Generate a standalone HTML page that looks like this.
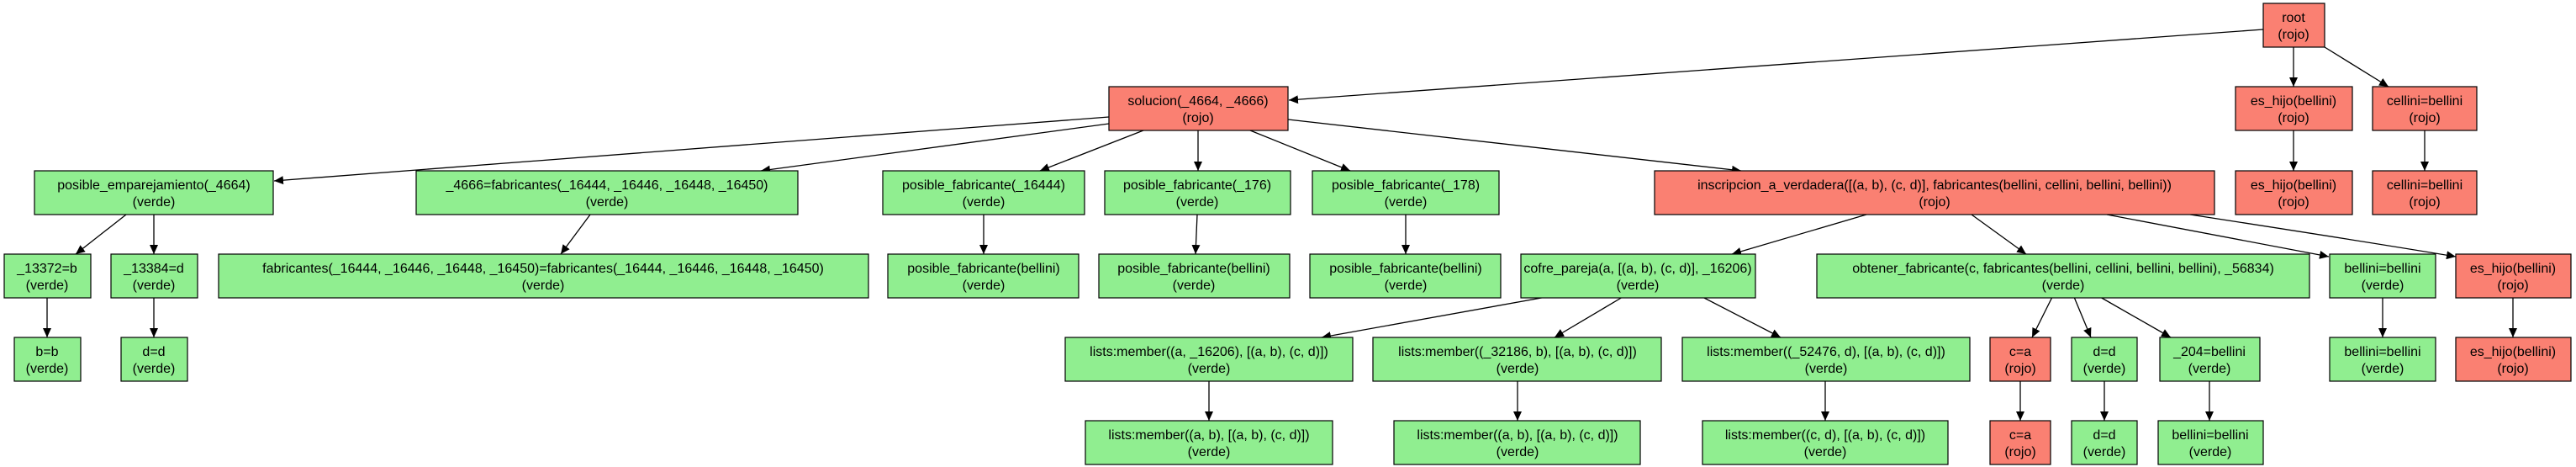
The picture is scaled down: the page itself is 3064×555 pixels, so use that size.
<!DOCTYPE html>
<html><head><meta charset="utf-8"><style>
html,body{margin:0;padding:0;background:#fff;}
svg{display:block;}
text{font-family:"Liberation Sans",Arial,sans-serif;font-size:16px;fill:#000;text-anchor:middle;}
.g{fill:#90EE90;stroke:#000;stroke-width:1.2;}
.r{fill:#FA8072;stroke:#000;stroke-width:1.2;}
line{stroke:#000;stroke-width:1.3;}
</style></head><body>
<svg width="3064" height="555" viewBox="0 0 3064 555" xmlns="http://www.w3.org/2000/svg">
<defs><marker id="a" markerUnits="userSpaceOnUse" markerWidth="12" markerHeight="10" refX="11" refY="5" orient="auto"><path d="M0,0 L11,5 L0,10 Z" fill="#000"/></marker></defs>
<g id="edges">
<line x1="2692" y1="35" x2="1533" y2="119" marker-end="url(#a)"/>
<line x1="2728" y1="56" x2="2728" y2="103" marker-end="url(#a)"/>
<line x1="2765" y1="56" x2="2841" y2="103" marker-end="url(#a)"/>
<line x1="2728" y1="155" x2="2728" y2="203" marker-end="url(#a)"/>
<line x1="2884" y1="155" x2="2884" y2="203" marker-end="url(#a)"/>
<line x1="1319" y1="139" x2="326" y2="215" marker-end="url(#a)"/>
<line x1="1319" y1="147" x2="905" y2="203" marker-end="url(#a)"/>
<line x1="1360" y1="155" x2="1237" y2="203" marker-end="url(#a)"/>
<line x1="1425" y1="155" x2="1425" y2="203" marker-end="url(#a)"/>
<line x1="1487" y1="155" x2="1606" y2="203" marker-end="url(#a)"/>
<line x1="1532" y1="142" x2="2071" y2="203" marker-end="url(#a)"/>
<line x1="150" y1="255" x2="90" y2="302" marker-end="url(#a)"/>
<line x1="183" y1="255" x2="183" y2="302" marker-end="url(#a)"/>
<line x1="702" y1="255" x2="667" y2="302" marker-end="url(#a)"/>
<line x1="1170" y1="255" x2="1170" y2="302" marker-end="url(#a)"/>
<line x1="1424" y1="255" x2="1422" y2="302" marker-end="url(#a)"/>
<line x1="1672" y1="255" x2="1672" y2="302" marker-end="url(#a)"/>
<line x1="2220" y1="255" x2="2060" y2="302" marker-end="url(#a)"/>
<line x1="2345" y1="255" x2="2410" y2="302" marker-end="url(#a)"/>
<line x1="2506" y1="255" x2="2770" y2="305" marker-end="url(#a)"/>
<path d="M2605,255 Q2800,285 2921,305" fill="none" stroke="#000" stroke-width="1.3" marker-end="url(#a)"/>
<line x1="2834" y1="354" x2="2834" y2="401" marker-end="url(#a)"/>
<line x1="2989" y1="354" x2="2989" y2="401" marker-end="url(#a)"/>
<line x1="56" y1="354" x2="56" y2="401" marker-end="url(#a)"/>
<line x1="183" y1="354" x2="183" y2="401" marker-end="url(#a)"/>
<line x1="1839" y1="353" x2="1572" y2="401" marker-end="url(#a)"/>
<line x1="1930" y1="353" x2="1849" y2="401" marker-end="url(#a)"/>
<line x1="2025" y1="353" x2="2118" y2="401" marker-end="url(#a)"/>
<line x1="2441" y1="353" x2="2417" y2="401" marker-end="url(#a)"/>
<line x1="2467" y1="353" x2="2487" y2="401" marker-end="url(#a)"/>
<line x1="2498" y1="353" x2="2582" y2="401" marker-end="url(#a)"/>
<line x1="1438" y1="453" x2="1438" y2="500" marker-end="url(#a)"/>
<line x1="1805" y1="453" x2="1805" y2="500" marker-end="url(#a)"/>
<line x1="2171" y1="453" x2="2171" y2="500" marker-end="url(#a)"/>
<line x1="2403" y1="453" x2="2403" y2="500" marker-end="url(#a)"/>
<line x1="2503" y1="453" x2="2503" y2="500" marker-end="url(#a)"/>
<line x1="2628" y1="453" x2="2628" y2="500" marker-end="url(#a)"/>
</g>
<g>
<rect class="r" x="2692" y="4" width="73" height="52"/><text x="2728" y="26">root</text><text x="2728" y="46">(rojo)</text>

<rect class="r" x="1319" y="103" width="213" height="52"/><text x="1425" y="125">solucion(_4664, _4666)</text><text x="1425" y="145">(rojo)</text>
<rect class="r" x="2659" y="103" width="139" height="52"/><text x="2728" y="125">es_hijo(bellini)</text><text x="2728" y="145">(rojo)</text>
<rect class="r" x="2822" y="103" width="124" height="52"/><text x="2884" y="125">cellini=bellini</text><text x="2884" y="145">(rojo)</text>

<rect class="g" x="41" y="203" width="284" height="52"/><text x="183" y="225">posible_emparejamiento(_4664)</text><text x="183" y="245">(verde)</text>
<rect class="g" x="495" y="203" width="454" height="52"/><text x="722" y="225">_4666=fabricantes(_16444, _16446, _16448, _16450)</text><text x="722" y="245">(verde)</text>
<rect class="g" x="1050" y="203" width="240" height="52"/><text x="1170" y="225">posible_fabricante(_16444)</text><text x="1170" y="245">(verde)</text>
<rect class="g" x="1314" y="203" width="221" height="52"/><text x="1424" y="225">posible_fabricante(_176)</text><text x="1424" y="245">(verde)</text>
<rect class="g" x="1561" y="203" width="222" height="52"/><text x="1672" y="225">posible_fabricante(_178)</text><text x="1672" y="245">(verde)</text>
<rect class="r" x="1968" y="203" width="666" height="52"/><text x="2301" y="225">inscripcion_a_verdadera([(a, b), (c, d)], fabricantes(bellini, cellini, bellini, bellini))</text><text x="2301" y="245">(rojo)</text>
<rect class="r" x="2659" y="203" width="139" height="52"/><text x="2728" y="225">es_hijo(bellini)</text><text x="2728" y="245">(rojo)</text>
<rect class="r" x="2822" y="203" width="124" height="52"/><text x="2884" y="225">cellini=bellini</text><text x="2884" y="245">(rojo)</text>

<rect class="g" x="5" y="302" width="103" height="52"/><text x="56" y="324">_13372=b</text><text x="56" y="344">(verde)</text>
<rect class="g" x="132" y="302" width="103" height="52"/><text x="183" y="324">_13384=d</text><text x="183" y="344">(verde)</text>
<rect class="g" x="260" y="302" width="773" height="52"/><text x="646" y="324">fabricantes(_16444, _16446, _16448, _16450)=fabricantes(_16444, _16446, _16448, _16450)</text><text x="646" y="344">(verde)</text>
<rect class="g" x="1056" y="302" width="227" height="52"/><text x="1170" y="324">posible_fabricante(bellini)</text><text x="1170" y="344">(verde)</text>
<rect class="g" x="1307" y="302" width="227" height="52"/><text x="1420" y="324">posible_fabricante(bellini)</text><text x="1420" y="344">(verde)</text>
<rect class="g" x="1558" y="302" width="227" height="52"/><text x="1672" y="324">posible_fabricante(bellini)</text><text x="1672" y="344">(verde)</text>
<rect class="g" x="1809" y="302" width="279" height="52"/><text x="1948" y="324">cofre_pareja(a, [(a, b), (c, d)], _16206)</text><text x="1948" y="344">(verde)</text>
<rect class="g" x="2161" y="302" width="586" height="52"/><text x="2454" y="324">obtener_fabricante(c, fabricantes(bellini, cellini, bellini, bellini), _56834)</text><text x="2454" y="344">(verde)</text>
<rect class="g" x="2771" y="302" width="126" height="52"/><text x="2834" y="324">bellini=bellini</text><text x="2834" y="344">(verde)</text>
<rect class="r" x="2921" y="302" width="137" height="52"/><text x="2989" y="324">es_hijo(bellini)</text><text x="2989" y="344">(rojo)</text>

<rect class="g" x="17" y="401" width="79" height="52"/><text x="56" y="423">b=b</text><text x="56" y="443">(verde)</text>
<rect class="g" x="144" y="401" width="79" height="52"/><text x="183" y="423">d=d</text><text x="183" y="443">(verde)</text>
<rect class="g" x="1267" y="401" width="342" height="52"/><text x="1438" y="423">lists:member((a, _16206), [(a, b), (c, d)])</text><text x="1438" y="443">(verde)</text>
<rect class="g" x="1633" y="401" width="343" height="52"/><text x="1805" y="423">lists:member((_32186, b), [(a, b), (c, d)])</text><text x="1805" y="443">(verde)</text>
<rect class="g" x="2001" y="401" width="342" height="52"/><text x="2172" y="423">lists:member((_52476, d), [(a, b), (c, d)])</text><text x="2172" y="443">(verde)</text>
<rect class="r" x="2367" y="401" width="72" height="52"/><text x="2403" y="423">c=a</text><text x="2403" y="443">(rojo)</text>
<rect class="g" x="2464" y="401" width="78" height="52"/><text x="2503" y="423">d=d</text><text x="2503" y="443">(verde)</text>
<rect class="g" x="2569" y="401" width="119" height="52"/><text x="2628" y="423">_204=bellini</text><text x="2628" y="443">(verde)</text>
<rect class="g" x="2771" y="401" width="126" height="52"/><text x="2834" y="423">bellini=bellini</text><text x="2834" y="443">(verde)</text>
<rect class="r" x="2921" y="401" width="137" height="52"/><text x="2989" y="423">es_hijo(bellini)</text><text x="2989" y="443">(rojo)</text>

<rect class="g" x="1291" y="500" width="294" height="52"/><text x="1438" y="522">lists:member((a, b), [(a, b), (c, d)])</text><text x="1438" y="542">(verde)</text>
<rect class="g" x="1658" y="500" width="293" height="52"/><text x="1805" y="522">lists:member((a, b), [(a, b), (c, d)])</text><text x="1805" y="542">(verde)</text>
<rect class="g" x="2025" y="500" width="292" height="52"/><text x="2171" y="522">lists:member((c, d), [(a, b), (c, d)])</text><text x="2171" y="542">(verde)</text>
<rect class="r" x="2367" y="500" width="72" height="52"/><text x="2403" y="522">c=a</text><text x="2403" y="542">(rojo)</text>
<rect class="g" x="2464" y="500" width="78" height="52"/><text x="2503" y="522">d=d</text><text x="2503" y="542">(verde)</text>
<rect class="g" x="2567" y="500" width="125" height="52"/><text x="2629" y="522">bellini=bellini</text><text x="2629" y="542">(verde)</text>
</g>
</svg>
</body></html>
